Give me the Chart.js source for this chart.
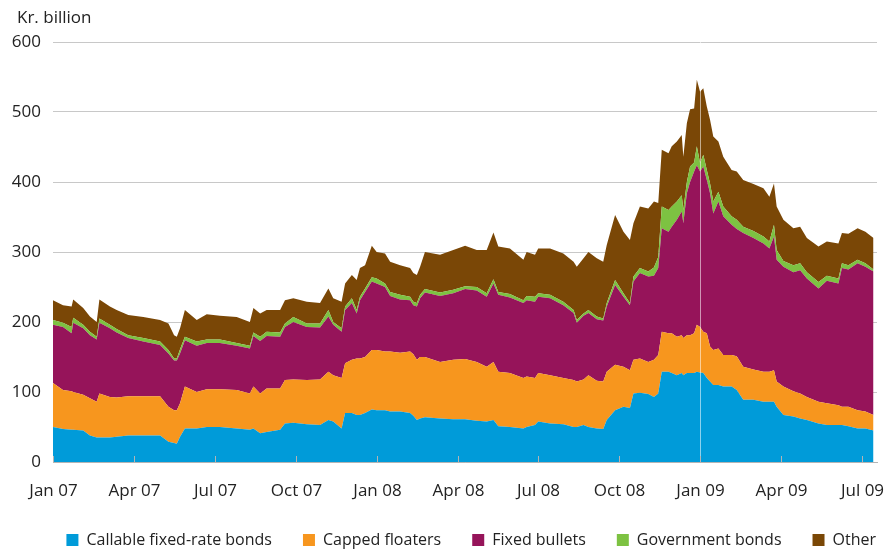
<!DOCTYPE html>
<html>
<head>
<meta charset="utf-8">
<script src="https://cdn.jsdelivr.net/npm/chart.js@4/dist/chart.umd.min.js"></script>
<style>
  body { margin: 0; background: #fff; }
  #wrap { width: 893px; height: 551px; position: relative; }
</style>
</head>
<body>
<div id="wrap"><canvas id="chart"></canvas></div>
<script>
// months since Jan 2007
const months = [
  0, 0.37, 0.69, 0.75, 1.12, 1.37, 1.62, 1.72, 2.11, 2.36,
  2.79, 3.35, 3.97, 4.28, 4.49, 4.59, 4.71, 4.89, 5.33, 5.70,
  6.19, 6.81, 7.30, 7.43, 7.68, 7.92, 8.42, 8.60, 8.91, 9.41,
  9.90, 10.21, 10.39, 10.70, 10.83, 11.08, 11.26, 11.38, 11.57, 11.82,
  12.00, 12.31, 12.50, 12.87, 13.24, 13.36, 13.49, 13.61, 13.79, 14.35,
  14.84, 15.28, 15.71, 16.08, 16.33, 16.51, 16.94, 17.44, 17.56, 17.87,
  17.99, 18.43, 18.92, 19.30, 19.42, 19.67, 19.85, 20.16, 20.40, 20.53,
  20.84, 21.15, 21.39, 21.52, 21.76, 22.07, 22.28, 22.44, 22.57, 22.82,
  22.94, 23.13, 23.31, 23.37, 23.50, 23.62, 23.77, 23.87, 23.99, 24.11,
  24.24, 24.36, 24.48, 24.67, 24.85, 25.16, 25.35, 25.59, 25.97, 26.34,
  26.56, 26.73, 26.83, 27.08, 27.45, 27.70, 27.95, 28.38, 28.69, 29.12,
  29.25, 29.49, 29.83, 30.12, 30.42
];
const callable = [
  50, 47, 46, 46, 45, 38, 35, 35, 35, 36,
  38, 38, 38, 29, 27, 26, 36, 48, 48, 50,
  50, 48, 46, 48, 41, 43, 46, 55, 56, 54,
  53, 60, 58, 48, 70, 70, 67, 67, 70, 75,
  74, 74, 72, 72, 70, 66, 60, 62, 64, 62,
  61, 61, 59, 58, 60, 51, 50, 48, 50, 53,
  58, 55, 54, 50, 50, 53, 50, 48, 47, 60,
  74, 79, 77, 98, 99, 97, 93, 98, 129, 129,
  127, 124, 127, 124, 127, 127, 127, 129, 128, 127,
  120, 115, 110, 110, 108, 108, 103, 89, 89, 86,
  86, 86, 79, 67, 65, 62, 60, 55, 53, 53,
  53, 51, 48, 48, 45
];
const capped = [
  63, 56, 55, 54, 51, 53, 51, 63, 58, 56,
  56, 56, 56, 50, 47, 48, 48, 60, 52, 54,
  54, 55, 52, 60, 57, 62, 59, 62, 62, 63,
  65, 69, 66, 72, 71, 76, 81, 81, 80, 85,
  86, 84, 86, 84, 88, 88, 86, 88, 86, 81,
  85, 86, 84, 78, 83, 78, 77, 72, 72, 67,
  69, 69, 66, 67, 65, 65, 74, 68, 68, 69,
  65, 57, 54, 48, 49, 46, 53, 55, 57, 55,
  57, 55, 54, 53, 54, 54, 57, 67, 65, 59,
  64, 50, 50, 52, 45, 45, 48, 47, 43, 43,
  43, 45, 36, 41, 36, 36, 33, 31, 31, 28,
  26, 28, 26, 24, 22
];
const bullets = [
  83, 90, 83, 99, 95, 90, 89, 101, 98, 93,
  83, 78, 73, 76, 71, 71, 71, 66, 66, 66,
  66, 63, 64, 72, 75, 75, 74, 76, 82, 76,
  74, 79, 72, 66, 76, 81, 64, 83, 93, 98,
  95, 92, 79, 76, 73, 70, 76, 84, 92, 94,
  95, 100, 102, 100, 112, 110, 108, 107, 109, 109,
  109, 110, 104, 96, 84, 91, 89, 88, 87, 93,
  114, 100, 93, 112, 122, 122, 120, 124, 148, 145,
  152, 167, 177, 164, 203, 219, 231, 228, 222, 236,
  219, 219, 195, 210, 198, 186, 182, 191, 188, 183,
  176, 191, 174, 171, 170, 176, 169, 162, 175, 174,
  198, 196, 210, 207, 205
];
const govt = [
  7, 6, 9, 7, 5, 5, 4, 6, 5, 5,
  4, 5, 5, 5, 3, 3, 6, 5, 6, 5,
  5, 4, 4, 5, 6, 6, 6, 5, 7, 5,
  6, 9, 4, 5, 5, 7, 5, 5, 5, 6,
  7, 5, 6, 7, 5, 5, 5, 5, 5, 5,
  5, 4, 5, 5, 6, 4, 5, 4, 6, 7,
  5, 5, 5, 4, 4, 3, 4, 4, 3, 5,
  7, 5, 3, 7, 7, 7, 12, 16, 31, 31,
  29, 26, 23, 19, 16, 22, 13, 27, 12, 17,
  14, 14, 17, 14, 14, 12, 13, 9, 10, 10,
  10, 17, 14, 8, 10, 10, 9, 9, 7, 7,
  7, 6, 5, 5, 3
];
const other = [
  28, 25, 29, 26, 24, 22, 21, 27, 26, 27,
  29, 30, 31, 38, 33, 31, 30, 38, 31, 36,
  34, 37, 34, 35, 33, 31, 32, 33, 27, 31,
  29, 31, 34, 38, 33, 33, 43, 41, 33, 45,
  38, 43, 43, 42, 41, 41, 40, 40, 53, 54,
  57, 58, 53, 62, 67, 65, 65, 58, 63, 60,
  64, 66, 69, 69, 76, 79, 83, 83, 81, 83,
  93, 88, 90, 76, 88, 90, 94, 77, 81, 81,
  86, 86, 86, 76, 84, 82, 77, 95, 102, 95,
  91, 91, 93, 72, 71, 66, 69, 67, 67, 69,
  64, 59, 62, 59, 53, 52, 49, 51, 49, 50,
  43, 45, 45, 45, 45
];
const tickMonths = [0, 3, 6, 9, 12, 15, 18, 21, 24, 27, 30];
const tickLabels = ['Jan 07', 'Apr 07', 'Jul 07', 'Oct 07', 'Jan 08', 'Apr 08', 'Jul 08', 'Oct 08', 'Jan 09', 'Apr 09', 'Jul 09'];

const seriesNames = ['Callable fixed-rate bonds', 'Capped floaters', 'Fixed bullets', 'Government bonds', 'Other'];
const seriesData = [callable, capped, bullets, govt, other];
const colors = ['#009bd9', '#f7961e', '#96145a', '#7dc242', '#7a4706'];

const FONT = '"Open Sans", sans-serif';
const FS = 17;

// inward x ticks + month labels, light line at Jan 09, unit label
const extras = {
  id: 'extras',
  afterLayout(chart) {
    // nudge the legend row to the right, like the original
    chart.legend.left += 30;
    chart.legend.right += 30;
  },
  afterDatasetsDraw(chart) {
    const { ctx, chartArea, scales } = chart;
    ctx.save();
    const xJan09 = Math.round(scales.x.getPixelForValue(24)) + 0.5;
    ctx.strokeStyle = 'rgba(255,255,255,0.55)';
    ctx.lineWidth = 1;
    ctx.beginPath();
    ctx.moveTo(xJan09, chartArea.bottom);
    ctx.lineTo(xJan09, chartArea.top);
    ctx.stroke();

    ctx.strokeStyle = '#b4b4b4';
    ctx.fillStyle = '#222';
    ctx.font = FS + 'px ' + FONT;
    ctx.textAlign = 'center';
    ctx.textBaseline = 'middle';
    tickMonths.forEach((m, i) => {
      const x = Math.round(scales.x.getPixelForValue(m)) + 0.5;
      ctx.beginPath();
      ctx.moveTo(x, chartArea.bottom);
      ctx.lineTo(x, chartArea.bottom - 6);
      ctx.stroke();
      ctx.fillText(tickLabels[i], x, chartArea.bottom + 29);
    });

    ctx.textAlign = 'left';
    ctx.fillText('Kr. billion', 17, 18);
    ctx.restore();
  }
};

new Chart(document.getElementById('chart'), {
  type: 'line',
  data: {
    datasets: seriesData.map((vals, i) => ({
      label: seriesNames[i],
      data: vals.map((v, j) => ({ x: months[j], y: v })),
      backgroundColor: colors[i],
      borderColor: colors[i],
      borderWidth: 0,
      pointRadius: 0,
      tension: 0,
      fill: i === 0 ? 'origin' : '-1'
    }))
  },
  options: {
    responsive: true,
    maintainAspectRatio: false,
    animation: false,
    layout: { padding: { top: 42, right: 16, left: 0, bottom: -7 } },
    plugins: {
      legend: {
        position: 'bottom',
        align: 'end',
        labels: {
          boxWidth: 12,
          boxHeight: 12,
          padding: 31,
          color: '#222',
          font: { family: FONT, size: 16 }
        }
      },
      tooltip: { enabled: false }
    },
    scales: {
      x: {
        type: 'linear',
        min: 0,
        max: 30.55,
        afterBuildTicks: s => { s.ticks = tickMonths.map(v => ({ value: v })); },
        afterFit: s => { s.height = 39; },
        grid: { display: false, drawTicks: false },
        border: { display: true, color: '#b4b4b4' },
        ticks: { display: false }
      },
      y: {
        stacked: true,
        min: 0,
        max: 600,
        afterFit: s => { s.width = 53; },
        grid: { color: '#c8c8c8', drawTicks: false },
        border: { display: false },
        ticks: {
          stepSize: 100,
          padding: 12,
          color: '#222',
          font: { family: FONT, size: FS }
        }
      }
    }
  },
  plugins: [extras]
});
</script>
</body>
</html>
